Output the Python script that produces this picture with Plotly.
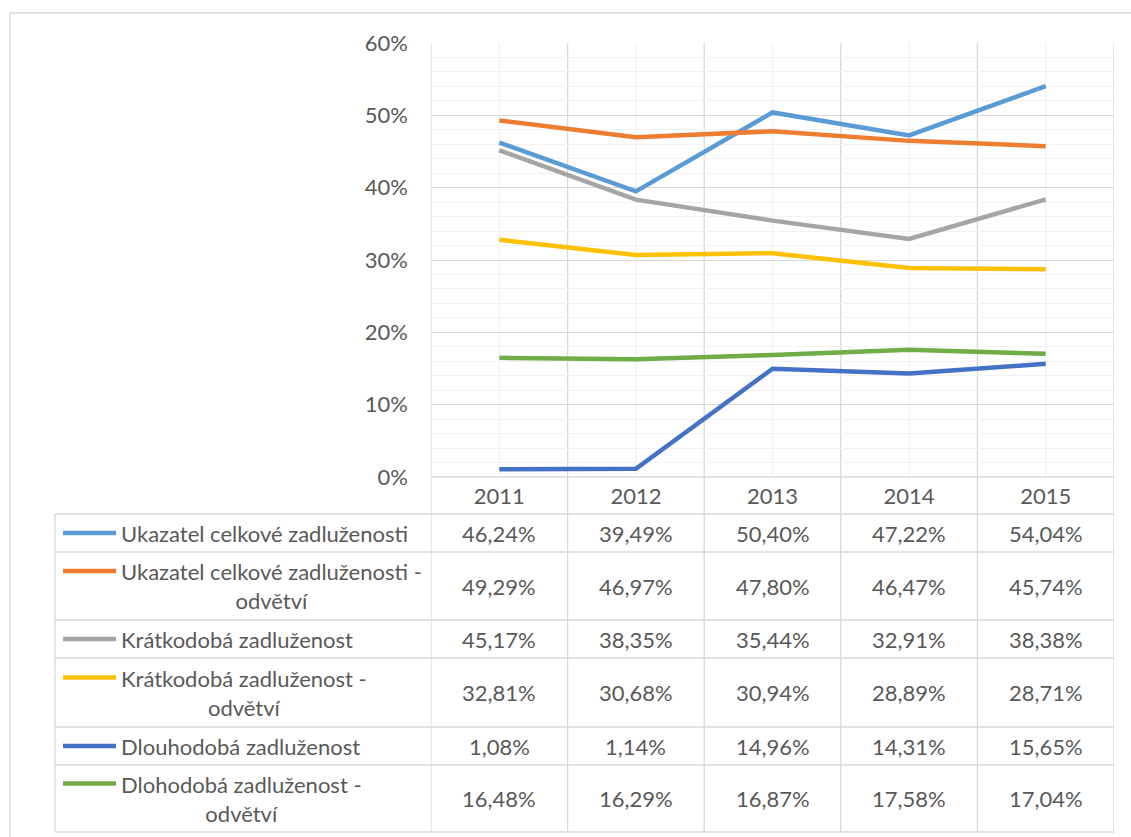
import plotly.graph_objects as go

years = ["2011", "2012", "2013", "2014", "2015"]
series_names = [
    "Ukazatel celkové zadluženosti",
    "Ukazatel celkové zadluženosti - odvětví",
    "Krátkodobá zadluženost",
    "Krátkodobá zadluženost - odvětví",
    "Dlouhodobá zadluženost",
    "Dlohodobá zadluženost - odvětví",
]
celkova = [46.24, 39.49, 50.40, 47.22, 54.04]
celkova_odv = [49.29, 46.97, 47.80, 46.47, 45.74]
kratkodoba = [45.17, 38.35, 35.44, 32.91, 38.38]
kratkodoba_odv = [32.81, 30.68, 30.94, 28.89, 28.71]
dlouhodoba = [1.08, 1.14, 14.96, 14.31, 15.65]
dlouhodoba_odv = [16.48, 16.29, 16.87, 17.58, 17.04]
series_values = [celkova, celkova_odv, kratkodoba, kratkodoba_odv, dlouhodoba, dlouhodoba_odv]
colors = ["#5B9BD5", "#ED7D31", "#A5A5A5", "#FFC000", "#4472C4", "#70AD47"]

W, H = 1131, 837
PL, PR, PT, PB = 431, 1114, 43, 477
FONT = "Lato"
FS = 22
TXT = "#595959"
GRID = "#D9D9D9"
MINOR = "#F2F2F2"
xidx = list(range(len(years)))


def xp(px):
    return (px - PL) / (PR - PL)


def yp(py):
    return (PB - py) / (PB - PT)


fig = go.Figure()
for name, vals, c in zip(series_names, series_values, colors):
    fig.add_trace(go.Scatter(
        x=xidx, y=[v / 100 for v in vals], mode="lines", name=name,
        line=dict(color=c, width=4.5), showlegend=False,
    ))

shapes = []
annotations = []
row_bounds = [514, 552, 620, 658, 727, 765, 832]

# minor vertical gridlines at category centers
for i in xidx:
    shapes.append(dict(type="line", xref="x", yref="paper", x0=i, x1=i, y0=0, y1=1,
                       line=dict(color=MINOR, width=1.3), layer="below"))
# major vertical gridlines at category boundaries, continuing through the table
for i in range(len(years) + 1):
    shapes.append(dict(type="line", xref="x", yref="paper", x0=i - 0.5, x1=i - 0.5,
                       y0=1, y1=yp(row_bounds[-1]), line=dict(color=GRID, width=1.3),
                       layer="below"))
shapes.append(dict(type="line", xref="paper", yref="paper", x0=xp(55), x1=xp(55),
                   y0=yp(row_bounds[0]), y1=yp(row_bounds[-1]), line=dict(color=GRID, width=1.3)))
shapes.append(dict(type="line", xref="paper", yref="paper", x0=0, x1=1,
                   y0=0, y1=0, line=dict(color=GRID, width=1.3)))
for rb in row_bounds:
    shapes.append(dict(type="line", xref="paper", yref="paper", x0=xp(55), x1=1,
                       y0=yp(rb), y1=yp(rb), line=dict(color=GRID, width=1.3)))
# outer chart border (left & top)
shapes.append(dict(type="line", xref="paper", yref="paper", x0=xp(10), x1=xp(10),
                   y0=yp(13), y1=yp(840), line=dict(color=GRID, width=1.3)))
shapes.append(dict(type="line", xref="paper", yref="paper", x0=xp(10), x1=xp(1140),
                   y0=yp(13), y1=yp(13), line=dict(color=GRID, width=1.3)))

for r, (name, vals, c) in enumerate(zip(series_names, series_values, colors)):
    top, bot = row_bounds[r], row_bounds[r + 1]
    mid = (top + bot) / 2
    two = " - " in name
    label = name.replace(" - ", " -<br>") if two else name
    key_y = mid - 15 if two else mid
    shapes.append(dict(type="line", xref="paper", yref="paper", x0=xp(63), x1=xp(116),
                       y0=yp(key_y), y1=yp(key_y), line=dict(color=c, width=4.5)))
    annotations.append(dict(xref="paper", yref="paper", x=xp(119), y=yp(mid), text=label,
                            showarrow=False, xanchor="left", yanchor="middle", align="center",
                            font=dict(family=FONT, size=FS, color=TXT)))
    for i, v in enumerate(vals):
        annotations.append(dict(xref="x", yref="paper", x=i, y=yp(mid),
                                text=f"{v:.2f}".replace(".", ",") + "%", showarrow=False,
                                xanchor="center", yanchor="middle",
                                font=dict(family=FONT, size=FS, color=TXT)))

fig.update_layout(
    width=W, height=H,
    margin=dict(l=PL, r=W - PR, t=PT, b=H - PB, pad=0),
    paper_bgcolor="white", plot_bgcolor="white",
    font=dict(family=FONT, size=FS, color=TXT),
    shapes=shapes, annotations=annotations,
    xaxis=dict(range=[-0.5, len(years) - 0.5], tickvals=xidx, ticktext=years,
               showgrid=False, showline=False, ticks="", ticklabelstandoff=4,
               zeroline=False, fixedrange=True),
    yaxis=dict(range=[0, 0.6], dtick=0.1, tickformat=".0%", showgrid=True, gridcolor=GRID,
               gridwidth=1.3, showline=False, ticks="", ticklabelstandoff=22, zeroline=False,
               minor=dict(dtick=0.02, showgrid=True, gridcolor=MINOR, gridwidth=1.3)),
)

fig.write_html("out.html")
